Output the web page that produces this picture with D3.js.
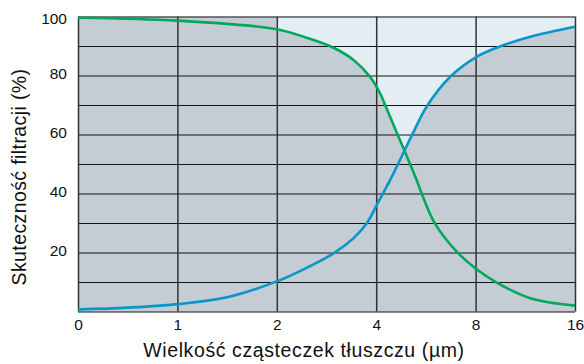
<!DOCTYPE html>
<html>
<head>
<meta charset="utf-8">
<script src="https://cdn.jsdelivr.net/npm/d3@7"></script>
<style>
  html, body { margin: 0; padding: 0; background: #fff; }
  svg { display: block; font-family: "Liberation Sans", Arial, sans-serif; }
</style>
</head>
<body>
<svg id="chart" width="584" height="364"></svg>
<script>
// Particle size ticks (µm) – evenly spaced on the axis
const sizeTicks = [0, 1, 2, 4, 8, 16];
const percentTicks = [20, 40, 60, 80, 100];
const gridPercents = [0, 10, 20, 30, 40, 50, 60, 70, 80, 90, 100];

// Filtration efficiency curves: [particle size µm, %]
const greenSeries = [
  [0, 99.6], [1, 98.6], [2, 95.7], [2.6, 92.8], [3.14, 89.4], [3.55, 85.2],
  [3.88, 79.5], [4.16, 73.9], [4.4, 69.2], [4.88, 59.6], [5.16, 54.1],
  [5.63, 44.5], [5.83, 40.0], [6.36, 29.9], [7.24, 20.3], [8.08, 14.3],
  [9.7, 9.8], [12.4, 4.5], [16, 2.0]
];
const blueSeries = [
  [0, 0.7], [0.5, 1.3], [1, 2.5], [1.5, 4.8], [2, 10.2], [2.6, 14.8],
  [3.14, 19.7], [3.54, 24.8], [3.81, 29.9], [4.06, 36.7], [4.6, 45.2],
  [5.43, 59.6], [6.04, 69.6], [6.97, 79.5], [8.08, 86.3], [9.7, 89.4],
  [12.4, 93.1], [16, 96.5]
];

const xTitle = "Wielkość cząsteczek tłuszczu (µm)";
const yTitle = "Skuteczność filtracji (%)";

const plotLeft = 78, plotRight = 575, plotTop = 16.5, plotBottom = 311.5;
const svg = d3.select("#chart");

const step = (plotRight - plotLeft) / (sizeTicks.length - 1);
const x = d3.scaleLinear()
  .domain(sizeTicks)
  .range(sizeTicks.map((d, i) => plotLeft + i * step));
const y = d3.scaleLinear().domain([0, 100]).range([plotBottom, plotTop]);

const grey = "#c5cdd4";
const pale = "#e2edf4";
const smooth = d3.curveCatmullRom.alpha(0.5);

// Backgrounds
svg.append("rect")
  .attr("x", plotLeft).attr("y", plotTop)
  .attr("width", plotRight - plotLeft).attr("height", plotBottom - plotTop)
  .attr("fill", grey);
svg.append("rect")
  .attr("x", x(2)).attr("y", plotTop)
  .attr("width", x(16) - x(2)).attr("height", plotBottom - plotTop)
  .attr("fill", pale);

const area = d3.area()
  .x(d => x(d[0])).y0(plotBottom).y1(d => y(d[1]))
  .curve(smooth);
[greenSeries, blueSeries].forEach(s => {
  svg.append("path").datum(s).attr("d", area).attr("fill", grey);
});

// Horizontal grid
svg.append("g")
  .attr("transform", `translate(${plotLeft},0)`)
  .call(d3.axisLeft(y).tickValues(gridPercents).tickSize(-(plotRight - plotLeft)).tickFormat(""))
  .call(g => g.select(".domain").remove())
  .call(g => g.selectAll("line").attr("stroke", "#151515").attr("stroke-width", 1.2));

// Vertical grid
svg.append("g")
  .attr("transform", `translate(0,${plotBottom})`)
  .call(d3.axisBottom(x).tickValues(sizeTicks).tickSize(-(plotBottom - plotTop)).tickFormat(""))
  .call(g => g.select(".domain").remove())
  .call(g => g.selectAll("line").attr("stroke", "#333").attr("stroke-width", 1.5));

// Curves
const line = d3.line()
  .x(d => x(d[0])).y(d => y(d[1]))
  .curve(smooth);
svg.append("path").datum(greenSeries).attr("d", line)
  .attr("fill", "none").attr("stroke", "#00a85a").attr("stroke-width", 2.6);
svg.append("path").datum(blueSeries).attr("d", line)
  .attr("fill", "none").attr("stroke", "#0a96c8").attr("stroke-width", 2.6);

// Tick labels
svg.append("g")
  .attr("transform", `translate(0,${plotBottom})`)
  .call(d3.axisBottom(x).tickValues(sizeTicks).tickSize(0).tickPadding(7).tickFormat(d3.format("d")))
  .call(g => g.select(".domain").remove())
  .call(g => g.selectAll("text").attr("font-size", 15.5).attr("fill", "#111")
    .attr("font-family", "Liberation Sans, Arial, sans-serif"));

svg.append("g")
  .attr("transform", `translate(${plotLeft},0)`)
  .call(d3.axisLeft(y).tickValues(percentTicks).tickSize(0).tickPadding(11).tickFormat(d3.format("d")))
  .call(g => g.select(".domain").remove())
  .call(g => g.selectAll("text").attr("font-size", 15.5).attr("fill", "#111")
    .attr("dy", d => d === 100 ? "0.42em" : "0.2em")
    .attr("font-family", "Liberation Sans, Arial, sans-serif"));

// Axis titles
svg.append("text")
  .attr("x", 304).attr("y", 357)
  .attr("text-anchor", "middle")
  .attr("font-size", 19.5).attr("letter-spacing", 0.6).attr("fill", "#111")
  .text(xTitle);
svg.append("text")
  .attr("transform", "translate(26,177) rotate(-90)")
  .attr("text-anchor", "middle")
  .attr("font-size", 19.5).attr("letter-spacing", 0.4).attr("fill", "#111")
  .text(yTitle);
</script>
</body>
</html>
